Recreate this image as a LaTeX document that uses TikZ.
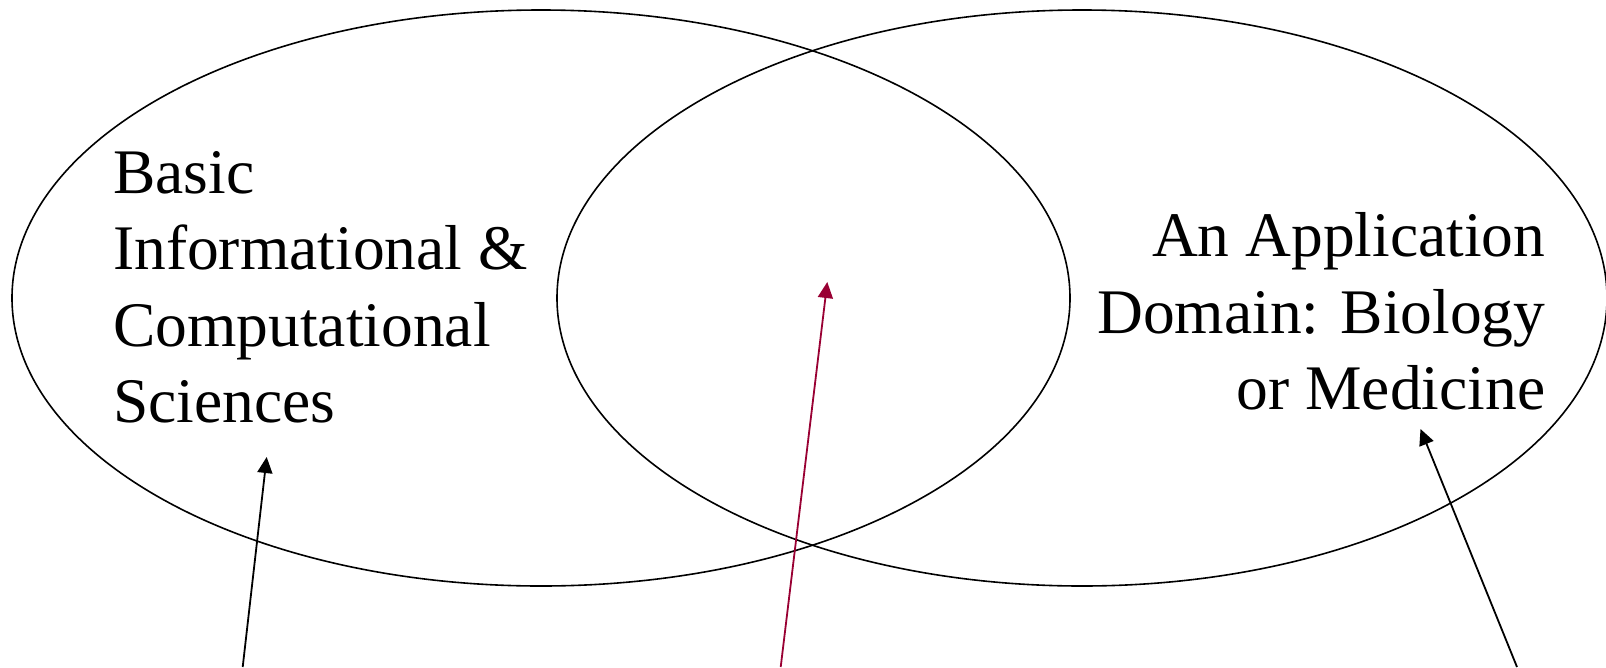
\documentclass[tikz,border=0pt]{standalone}
\usepackage{fontspec}
\setmainfont{Liberation Serif}
\usetikzlibrary{arrows.meta}
\definecolor{arrowred}{HTML}{990033}
\tikzset{
  venn/.style={draw=black, line width=1.6pt},
  pointer/.style={line width=1.8pt, -{Triangle[length=16pt,width=15pt]}},
  lbl/.style={inner sep=0pt, font=\fontsize{63.5}{76.5}\selectfont}
}
\begin{document}
\begin{tikzpicture}[x=1pt,y=-1pt]
\useasboundingbox (0,0) rectangle (1606,667);
\draw[venn] (541,298) ellipse [x radius=529, y radius=288];
\draw[venn] (1082,298) ellipse [x radius=525, y radius=288];
\node[lbl, anchor=base west] (left) at (113,193.3)
  {\begin{tabular}[t]{@{}l@{}}Basic\\Informational \&\\Computational\\Sciences\end{tabular}};
\node[lbl, anchor=base east] (right) at (1545.5,256.7)
  {\begin{tabular}[t]{@{}r@{}}An Application\\Domain: Biology\\or Medicine\end{tabular}};
\coordinate (a1s) at (242.7,667);
\coordinate (a1e) at (266.7,457);
\coordinate (a2s) at (780.7,667);
\coordinate (a2e) at (827.3,282);
\coordinate (a3s) at (1517,667);
\coordinate (a3e) at (1420.5,429);
\draw[pointer] (a1s) -- (a1e);
\draw[pointer, arrowred] (a2s) -- (a2e);
\draw[pointer] (a3s) -- (a3e);
\end{tikzpicture}
\end{document}
